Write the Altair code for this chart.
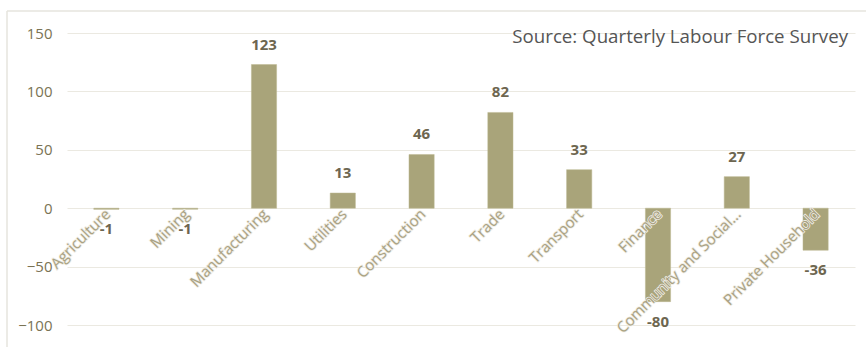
import altair as alt
import pandas as pd

categories = ["Agriculture", "Mining", "Manufacturing", "Utilities", "Construction",
              "Trade", "Transport", "Finance", "Community and Social...", "Private Household"]
values = [-1, -1, 123, 13, 46, 82, 33, -80, 27, -36]
y_ticks = [-100, -50, 0, 50, 100, 150]
source_text = "Source: Quarterly Labour Force Survey"

df = pd.DataFrame({"cat": categories, "val": values})
df["lab"] = df["val"].astype(str)

W, H = 788, 292
FONT = "Open Sans"
Y_MIN, Y_MAX = -100, 150
zero_px = H * (Y_MAX - 0) / (Y_MAX - Y_MIN)

x_scale = alt.Scale(paddingInner=0.68, paddingOuter=0.34)
x_enc = alt.X("cat:N", sort=categories, scale=x_scale,
              axis=alt.Axis(title=None, labels=False, ticks=False, domain=False, grid=False))
y_scale = alt.Scale(domain=[Y_MIN, Y_MAX], nice=False, zero=False)

bars = alt.Chart(df).mark_bar(color="#a9a47a", stroke="#bdb893", strokeWidth=0.5).encode(
    x=x_enc,
    y=alt.Y("val:Q", scale=y_scale,
            axis=alt.Axis(title=None, values=y_ticks, grid=True, gridColor="#ebe9e1",
                          domain=False, ticks=False, labelFontSize=15, labelColor="#7a7354",
                          labelFont=FONT, labelPadding=15)),
)

label_props = dict(fontSize=15, font=FONT, angle=315, align="right", baseline="middle", dx=2)
cat_halo = alt.Chart(df).mark_text(color="#a9a182", stroke="#efede5", strokeWidth=1.6,
                                   **label_props).encode(
    x=alt.X("cat:N", sort=categories), y=alt.value(zero_px + 5), text="cat:N")
cat_labels = alt.Chart(df).mark_text(color="#a9a182", **label_props).encode(
    x=alt.X("cat:N", sort=categories), y=alt.value(zero_px + 5), text="cat:N")

pos = alt.Chart(df[df["val"] >= 0]).mark_text(fontSize=15, fontWeight="bold", color="#6d6650",
                                              font=FONT, baseline="middle", dy=-20).encode(
    x=alt.X("cat:N", sort=categories), y=alt.Y("val:Q", scale=y_scale), text="lab:N")
neg = alt.Chart(df[df["val"] < 0]).mark_text(fontSize=15, fontWeight="bold", color="#6d6650",
                                             font=FONT, baseline="middle", dy=20).encode(
    x=alt.X("cat:N", sort=categories), y=alt.Y("val:Q", scale=y_scale), text="lab:N")

src = alt.Chart(pd.DataFrame({"t": [source_text]})).mark_text(
    fontSize=18.7, color="#555555", font=FONT, align="right", baseline="alphabetic").encode(
    x=alt.value(781), y=alt.value(10), text="t:N")

border_top = alt.Chart(pd.DataFrame({"a": [0]})).mark_rule(color="#e6e4de", strokeWidth=1.5).encode(
    x=alt.value(-60), x2=alt.value(820), y=alt.value(-22))
border_left = alt.Chart(pd.DataFrame({"a": [0]})).mark_rule(color="#e6e4de", strokeWidth=1.5).encode(
    x=alt.value(-60), y=alt.value(-22), y2=alt.value(330))

chart = alt.layer(border_top, border_left, bars, cat_halo, cat_labels, pos, neg, src).properties(
    width=W, height=H,
    autosize=alt.AutoSizeParams(type="none"),
    padding={"left": 67, "top": 33, "right": 11, "bottom": 22},
    background="white",
).configure_view(stroke=None)

chart.save("out.html", embed_options={"renderer": "svg", "actions": False})
